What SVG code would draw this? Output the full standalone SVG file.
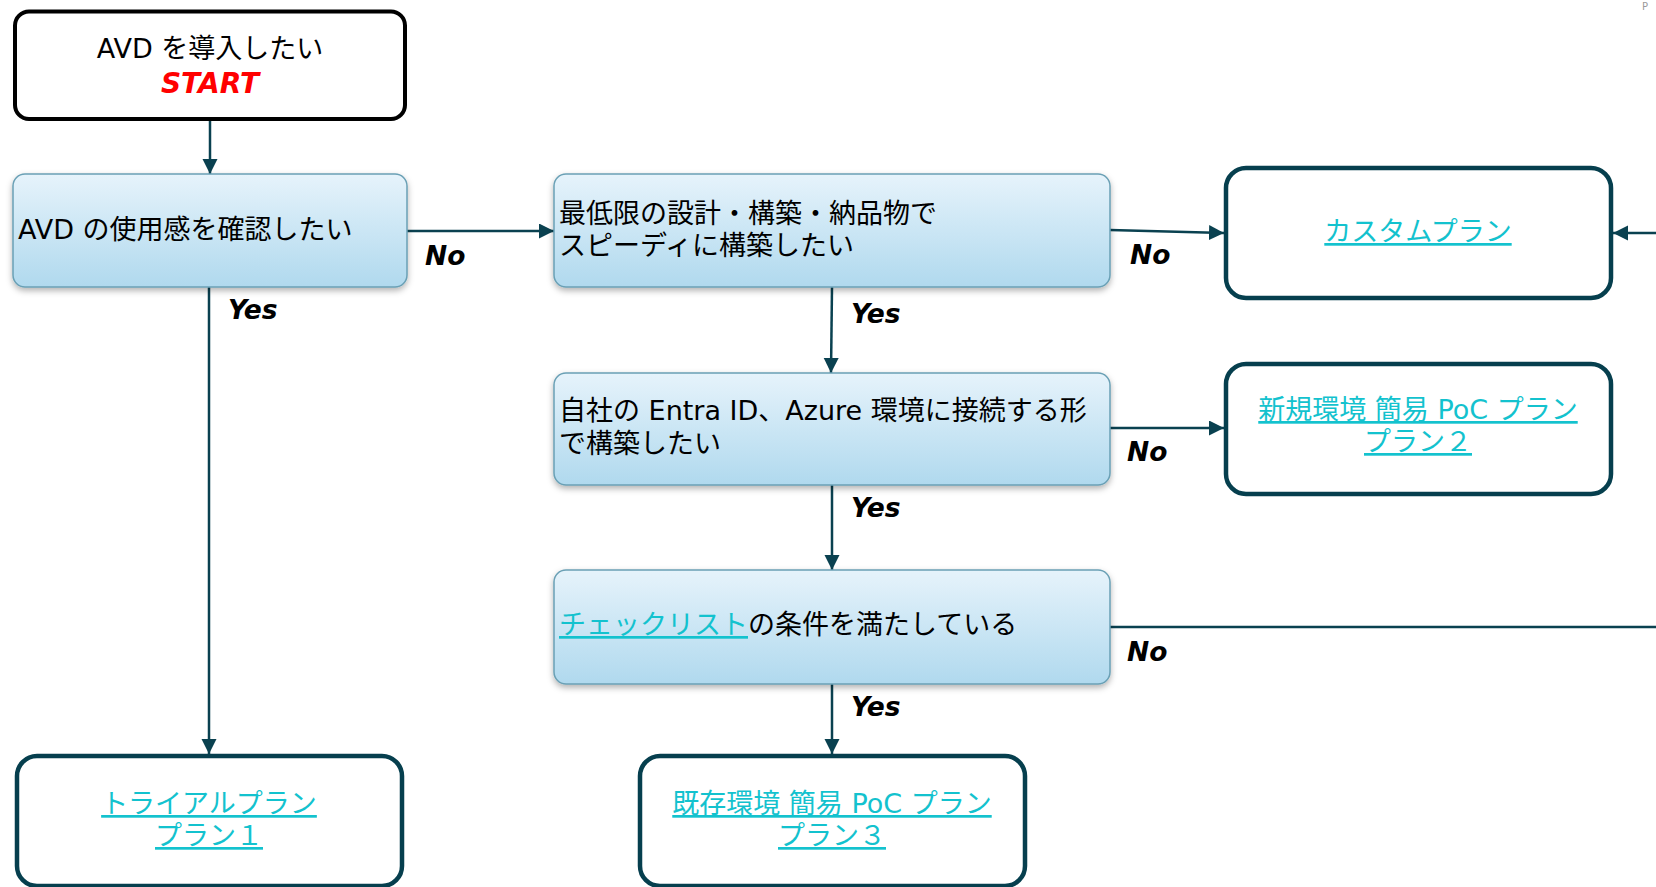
<svg xmlns="http://www.w3.org/2000/svg" width="1656" height="887" viewBox="0 0 1656 887">
<style>
  .t { font-family: "DejaVu Sans", "Noto Sans CJK JP", sans-serif; fill: #000; font-size: 27px; }
  .link { fill: #13c2ce; text-decoration: underline; }
  .lbl { font-family: "DejaVu Sans", "Noto Sans CJK JP", sans-serif; font-weight: bold; font-style: italic; font-size: 26.5px; fill: #000; }
  .q { fill: url(#blueGrad); stroke: #6aa0b5; stroke-width: 1.5; filter: url(#shadow); }
  .plan { fill: #fff; stroke: #063f4e; stroke-width: 4.5; }
  .conn { stroke: #0a4150; stroke-width: 2.5; fill: none; }
</style>
<defs>
  <linearGradient id="blueGrad" x1="0" y1="0" x2="0" y2="1">
    <stop offset="0" stop-color="#e6f3fb"/>
    <stop offset="1" stop-color="#b0d9ee"/>
  </linearGradient>
  <filter id="shadow" x="-5%" y="-10%" width="110%" height="130%">
    <feDropShadow dx="0" dy="3" stdDeviation="3" flood-color="#000" flood-opacity="0.3"/>
  </filter>
  <marker id="arr" markerUnits="userSpaceOnUse" markerWidth="16" markerHeight="16" refX="15" refY="7.5" orient="auto">
    <path d="M0,0 L15,7.5 L0,15 Z" fill="#0a4150"/>
  </marker>
</defs>

<g id="connectors">
  <line class="conn" x1="210" y1="121" x2="210" y2="174" marker-end="url(#arr)"/>
  <line class="conn" x1="407" y1="231" x2="554" y2="231" marker-end="url(#arr)"/>
  <line class="conn" x1="209" y1="287" x2="209" y2="754" marker-end="url(#arr)"/>
  <line class="conn" x1="1110" y1="230" x2="1224" y2="233" marker-end="url(#arr)"/>
  <line class="conn" x1="1656" y1="233" x2="1613" y2="233" marker-end="url(#arr)"/>
  <line class="conn" x1="832" y1="287" x2="831" y2="373" marker-end="url(#arr)"/>
  <line class="conn" x1="1110" y1="428" x2="1224" y2="428" marker-end="url(#arr)"/>
  <line class="conn" x1="832" y1="485" x2="832" y2="570" marker-end="url(#arr)"/>
  <line class="conn" x1="1110" y1="627" x2="1656" y2="627"/>
  <line class="conn" x1="832" y1="684" x2="832" y2="754" marker-end="url(#arr)"/>
  <text class="lbl" x="425" y="265">No</text>
  <text class="lbl" x="228" y="319">Yes</text>
  <text class="lbl" x="1130" y="264">No</text>
  <text class="lbl" x="851" y="323">Yes</text>
  <text class="lbl" x="1127" y="461">No</text>
  <text class="lbl" x="851" y="517">Yes</text>
  <text class="lbl" x="1127" y="661">No</text>
  <text class="lbl" x="851" y="716">Yes</text>
</g>

<g id="start">
  <rect x="15" y="11.5" width="390" height="107.5" rx="14" fill="#fff" stroke="#000" stroke-width="4"/>
  <text class="t" x="210" y="58" text-anchor="middle">AVD を導入したい</text>
  <text x="210" y="93" font-family="DejaVu Sans, sans-serif" font-size="28" font-weight="bold" font-style="italic" fill="#ff0000" text-anchor="middle">START</text>
</g>

<g id="q1">
  <rect class="q" x="13" y="174" width="394" height="113" rx="12"/>
  <text class="t" x="18" y="239">AVD の使用感を確認したい</text>
</g>

<g id="q2">
  <rect class="q" x="554" y="174" width="556" height="113" rx="12"/>
  <text class="t" x="559" y="223">最低限の設計・構築・納品物で</text>
  <text class="t" x="559" y="255">スピーディに構築したい</text>
</g>

<g id="q3">
  <rect class="q" x="554" y="373" width="556" height="112" rx="12"/>
  <text class="t" x="559" y="420">自社の Entra ID、Azure 環境に接続する形</text>
  <text class="t" x="559" y="453">で構築したい</text>
</g>

<g id="q4">
  <rect class="q" x="554" y="570" width="556" height="114" rx="12"/>
  <text class="t" x="559" y="634"><tspan class="link">チェックリスト</tspan>の条件を満たしている</text>
</g>

<g id="custom-plan">
  <rect class="plan" x="1226" y="168" width="385" height="130" rx="20"/>
  <text class="t link" x="1418" y="241" text-anchor="middle">カスタムプラン</text>
</g>

<g id="plan2">
  <rect class="plan" x="1226" y="364" width="385" height="130" rx="20"/>
  <text class="t link" x="1418" y="419" text-anchor="middle">新規環境 簡易 PoC プラン</text>
  <text class="t link" x="1418" y="451" text-anchor="middle">プラン２</text>
</g>

<g id="plan1">
  <rect class="plan" x="17" y="756" width="385" height="130" rx="20"/>
  <text class="t link" x="209" y="813" text-anchor="middle">トライアルプラン</text>
  <text class="t link" x="209" y="845" text-anchor="middle">プラン１</text>
</g>

<g id="plan3">
  <rect class="plan" x="640" y="756" width="385" height="130" rx="20"/>
  <text class="t link" x="832" y="813" text-anchor="middle">既存環境 簡易 PoC プラン</text>
  <text class="t link" x="832" y="845" text-anchor="middle">プラン３</text>
</g>

<text x="1642" y="10" font-family="DejaVu Sans, sans-serif" font-size="10" fill="#9a9a9a">P</text>
</svg>
